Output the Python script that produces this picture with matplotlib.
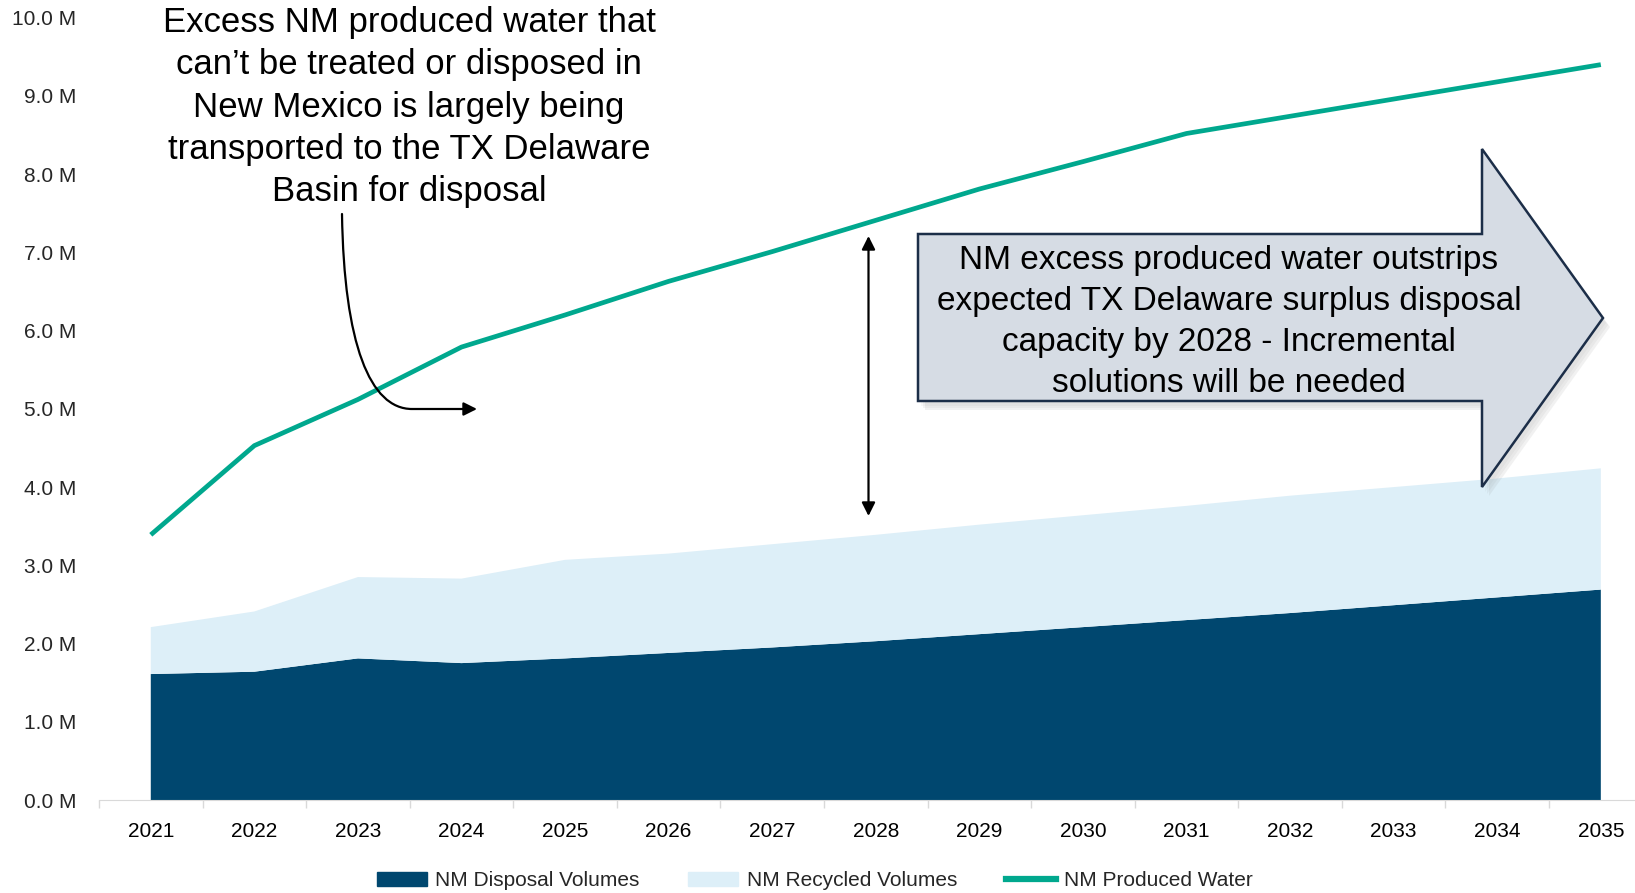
import matplotlib.pyplot as plt
import numpy as np
from matplotlib.lines import Line2D
from matplotlib.patches import FancyArrowPatch, Patch, Polygon
from matplotlib.path import Path

plt.rcParams["font.family"] = ["Liberation Sans", "DejaVu Sans"]

years = ["2021", "2022", "2023", "2024", "2025", "2026", "2027", "2028",
         "2029", "2030", "2031", "2032", "2033", "2034", "2035"]
disposal = [1.61, 1.64, 1.81, 1.75, 1.81, 1.88, 1.95, 2.03, 2.12, 2.21,
            2.30, 2.39, 2.49, 2.59, 2.69]
total_reuse_disposal = [2.21, 2.41, 2.85, 2.83, 3.07, 3.15, 3.27, 3.39, 3.52,
                        3.64, 3.76, 3.89, 4.00, 4.11, 4.24]
produced = [3.39, 4.53, 5.12, 5.79, 6.20, 6.63, 7.01, 7.41, 7.81, 8.16,
            8.52, 8.74, 8.96, 9.18, 9.40]
recycled = [t - d for t, d in zip(total_reuse_disposal, disposal)]

DARK = "#00476F"
LIGHT = "#DDEFF8"
GREEN = "#00A88E"

W, H = 1635, 893
fig = plt.figure(figsize=(W / 100, H / 100), dpi=100)
ax = fig.add_axes([99 / W, 1 - 800 / H, 1 - 99 / W, (800 - 17.7) / H])

x = np.arange(len(years))
ax.stackplot(x, disposal, recycled, colors=[DARK, LIGHT], linewidth=0)
ax.plot(x, produced, color=GREEN, lw=3.4, solid_capstyle="butt")

ax.set_yticks(np.arange(0, 11, 1))
ax.set_yticklabels([f"{v:.1f} M" for v in range(11)])
ax.set_xticks(x)
ax.set_xticklabels(years)
ax.set_xticks(np.arange(-0.5, 15, 1), minor=True)
# limits after the ticks, set_xticks would widen them otherwise
ax.set_xlim(-0.5, 14.33)
ax.set_ylim(0, 10)
ax.tick_params(axis="y", length=0, pad=16.5, labelsize=15, labelcolor="#262626")
ax.tick_params(axis="x", which="major", length=0, pad=16, labelsize=15)
ax.tick_params(axis="x", which="minor", length=5.8, color="#D9D9D9", width=1)
for side in ["top", "right", "left"]:
    ax.spines[side].set_visible(False)
ax.spines["bottom"].set_color("#D9D9D9")

# legend
handles = [Patch(color=DARK), Patch(color=LIGHT),
           Line2D([0], [0], color=GREEN, lw=4.5)]
fig.legend(handles, ["NM Disposal Volumes", "NM Recycled Volumes", "NM Produced Water"],
           loc="center", bbox_to_anchor=(815 / W, 12 / H), ncol=3, frameon=False,
           fontsize=15, handlelength=2.4, handleheight=0.67, handletextpad=0.4,
           columnspacing=2.35, labelcolor="#262626")

# overlay for annotations, in pixel coords
ov = fig.add_axes([0, 0, 1, 1], zorder=5)
ov.set_xlim(0, W)
ov.set_ylim(H, 0)
ov.axis("off")
ov.patch.set_visible(False)

ov.text(409, 107, "Excess NM produced water that\ncan’t be treated or disposed in\n"
        "New Mexico is largely being\ntransported to the TX Delaware\nBasin for disposal",
        ha="center", va="center", fontsize=25, linespacing=1.35)

curve = Path([(342, 214), (344, 344), (370, 409), (412, 409), (477, 409)],
             [Path.MOVETO, Path.CURVE4, Path.CURVE4, Path.CURVE4, Path.LINETO])
ov.add_patch(FancyArrowPatch(path=curve, arrowstyle="-|>,head_length=8,head_width=4",
                             color="black", lw=1.6))

ov.add_patch(FancyArrowPatch((868.5, 516), (868.5, 236),
                             arrowstyle="<|-|>,head_length=8,head_width=4",
                             color="black", lw=1.6, shrinkA=0, shrinkB=0))

arrow_pts = np.array([(918, 234), (1482, 234), (1482, 149), (1603, 318),
                      (1482, 487), (1482, 401), (918, 401)])
for i, a in enumerate([0.06, 0.08, 0.1]):
    off = 3 + 2 * i
    ov.add_patch(Polygon(arrow_pts + [off, off + 2], closed=True, facecolor="#7F7F7F",
                         edgecolor="none", alpha=a))
ov.add_patch(Polygon(arrow_pts, closed=True, facecolor="#D6DCE4", edgecolor="#1C2E48",
                     lw=1.8, joinstyle="miter"))
ov.text(1229, 322, "NM excess produced water outstrips\nexpected TX Delaware surplus disposal\n"
        "capacity by 2028 - Incremental\nsolutions will be needed",
        ha="center", va="center", fontsize=24, linespacing=1.41)

fig.savefig("out.png", dpi=100)
